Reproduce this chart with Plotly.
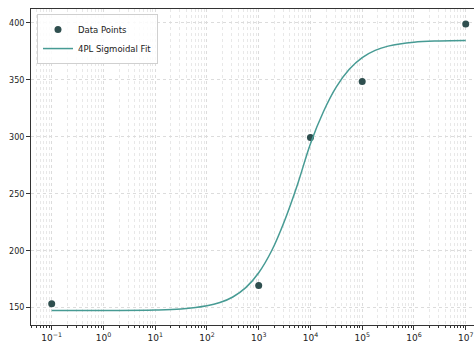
import plotly.graph_objects as go

# Data points
data_x = [0.1, 1000, 10000, 100000, 10000000]
data_y = [153.5, 169.5, 299.5, 348.5, 399.0]

# 4PL sigmoidal fit curve
fit_x = [0.1, 1, 10, 31.6, 100, 178, 316, 562, 1000, 1778, 3162, 5623,
         10000, 17783, 31623, 56234, 100000, 177828, 316228, 1000000,
         3162278, 10000000]
fit_y = [147.6, 147.6, 148.0, 148.9, 151.6, 154.5, 159.4, 167.6, 180.7, 200.0,
         226.4, 258.2, 294.0, 322.0, 343.8, 359.3, 369.6, 375.9, 379.6, 383.1,
         384.2, 384.6]

# Tick labels
x_tickvals = [0.1, 1, 10, 100, 1000, 10000, 100000, 1000000, 10000000]
x_ticktext = ["10<sup>−1</sup>", "10<sup>0</sup>", "10<sup>1</sup>", "10<sup>2</sup>",
              "10<sup>3</sup>", "10<sup>4</sup>", "10<sup>5</sup>", "10<sup>6</sup>",
              "10<sup>7</sup>"]
y_tickvals = [150, 200, 250, 300, 350, 400]

fig = go.Figure()
fig.add_trace(go.Scatter(
    x=data_x, y=data_y, mode="markers", name="Data Points",
    marker=dict(color="#2F4F4F", size=7),
))
fig.add_trace(go.Scatter(
    x=fit_x, y=fit_y, mode="lines", name="4PL Sigmoidal Fit",
    line=dict(color="#479B94", width=1.5, shape="spline", smoothing=1),
))

fig.update_layout(
    width=474, height=343,
    margin=dict(l=31, r=0, t=9, b=16),
    paper_bgcolor="white", plot_bgcolor="white",
    font=dict(family="DejaVu Sans", size=8.5, color="#222"),
    showlegend=True,
    legend=dict(
        x=0.0135, y=0.984, xanchor="left", yanchor="top",
        bgcolor="rgba(255,255,255,0.85)", bordercolor="#d0d0d0", borderwidth=1,
        font=dict(size=8.5, color="#222"), itemwidth=30,
        tracegroupgap=0,
    ),
)
fig.update_xaxes(
    type="log", range=[-1.4, 7.16],
    tickmode="array", tickvals=x_tickvals, ticktext=x_ticktext,
    ticks="outside", ticklen=4, tickcolor="#333", tickwidth=1,
    tickfont=dict(size=9),
    showline=True, linecolor="#333", linewidth=1, mirror=True,
    showgrid=True, gridcolor="#dcdcdc", griddash="dot", gridwidth=0.8,
    minor=dict(dtick="D1", ticks="outside", ticklen=2, tickcolor="#333",
               showgrid=True, gridcolor="#e8e8e8", griddash="dot", gridwidth=0.8),
    zeroline=False,
)
fig.update_yaxes(
    range=[134.8, 412.2],
    tickmode="array", tickvals=y_tickvals,
    ticks="outside", ticklen=4, tickcolor="#333", tickwidth=1,
    tickfont=dict(size=8),
    showline=True, linecolor="#333", linewidth=1,
    showgrid=True, gridcolor="#dcdcdc", griddash="dot", gridwidth=0.8,
    zeroline=False,
)

fig.write_html("out.html")
